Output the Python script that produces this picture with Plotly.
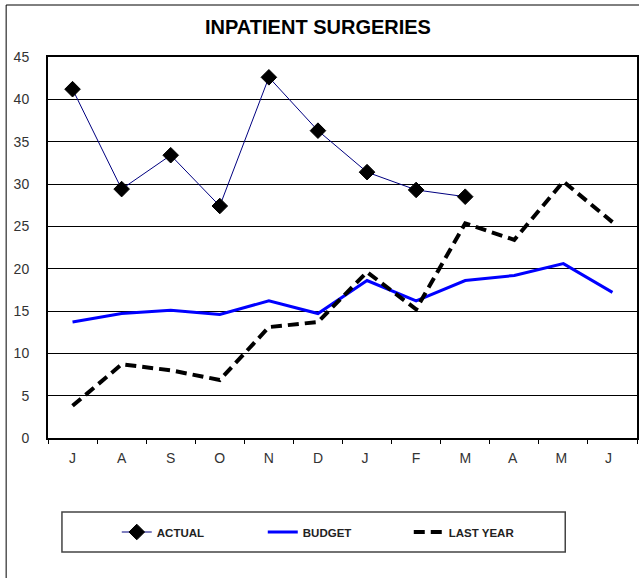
import plotly.graph_objects as go

months = ["J", "A", "S", "O", "N", "D", "J ", "F", "M", "A ", "M ", "J  "]
actual = [41.2, 29.4, 33.4, 27.4, 42.6, 36.3, 31.4, 29.3, 28.5, None, None, None]
budget = [13.7, 14.7, 15.1, 14.6, 16.2, 14.7, 18.6, 16.2, 18.6, 19.2, 20.6, 17.2]
last_year = [3.8, 8.7, 8.0, 6.85, 13.1, 13.7, 19.6, 15.2, 25.35, 23.4, 30.3, 25.5]
y_ticks = list(range(0, 50, 5))

W, H = 639, 578
L, T, B = 48, 57, 140
PW = W - L
PH = H - T - B

def px_x(p):
    return (p - L) / PW

def px_y(p):
    return (H - B - p) / PH

font = "Liberation Sans, Arial, sans-serif"

fig = go.Figure()
fig.add_trace(go.Scatter(
    x=months, y=actual, name="<b>ACTUAL</b>", mode="lines+markers",
    line=dict(color="#000080", width=1),
    marker=dict(symbol="diamond", size=12, color="black", line=dict(color="black", width=1)),
))
fig.add_trace(go.Scatter(
    x=months, y=budget, name="<b>BUDGET</b>", mode="lines",
    line=dict(color="#0000FF", width=3),
))
fig.add_trace(go.Scatter(
    x=months, y=last_year, name="<b>LAST YEAR</b>", mode="lines",
    line=dict(color="black", width=4, dash="11px,6px"),
))

fig.update_layout(
    width=W, height=H,
    margin=dict(l=L, r=0, t=T, b=B),
    paper_bgcolor="white", plot_bgcolor="white",
    font=dict(family=font, color="#222", size=14),
    title=dict(text="<b>INPATIENT SURGERIES</b>", x=318 / W, xanchor="center",
               y=1 - 27 / H, yanchor="middle", font=dict(size=20, color="black")),
    showlegend=True,
    legend=dict(orientation="h", x=px_x(117), xanchor="left", y=px_y(532), yanchor="middle",
                entrywidth=101, entrywidthmode="pixels",
                font=dict(size=11.5, color="#222", family=font), bgcolor="rgba(0,0,0,0)",
                borderwidth=0, traceorder="normal"),
    shapes=[
        dict(type="rect", xref="paper", yref="paper", x0=px_x(6), x1=px_x(645), y0=px_y(585), y1=px_y(5),
             line=dict(color="black", width=1), layer="below"),
        dict(type="rect", xref="paper", yref="paper", x0=px_x(62), x1=px_x(567), y0=px_y(552), y1=px_y(512),
             line=dict(color="#444", width=1.5), layer="below"),
    ],
)
fig.update_xaxes(
    type="category", range=[-0.5, 11.5], showgrid=False,
    showline=True, linecolor="black", linewidth=2, mirror=True,
    ticks="outside", tickson="boundaries", ticklen=4, tickcolor="black", tickwidth=1,
    tickfont=dict(size=14, color="#333"), ticklabelstandoff=6,
)
fig.update_yaxes(
    range=[0, 45], tickvals=y_ticks, showgrid=True, gridcolor="black", gridwidth=1,
    showline=True, linecolor="black", linewidth=2, mirror=True, zeroline=False,
    ticks="", tickfont=dict(size=14, color="#333"), ticklabelstandoff=14,
)

fig.write_html("out.html", config={"displayModeBar": False},
               post_script="document.body.style.margin='0';")
